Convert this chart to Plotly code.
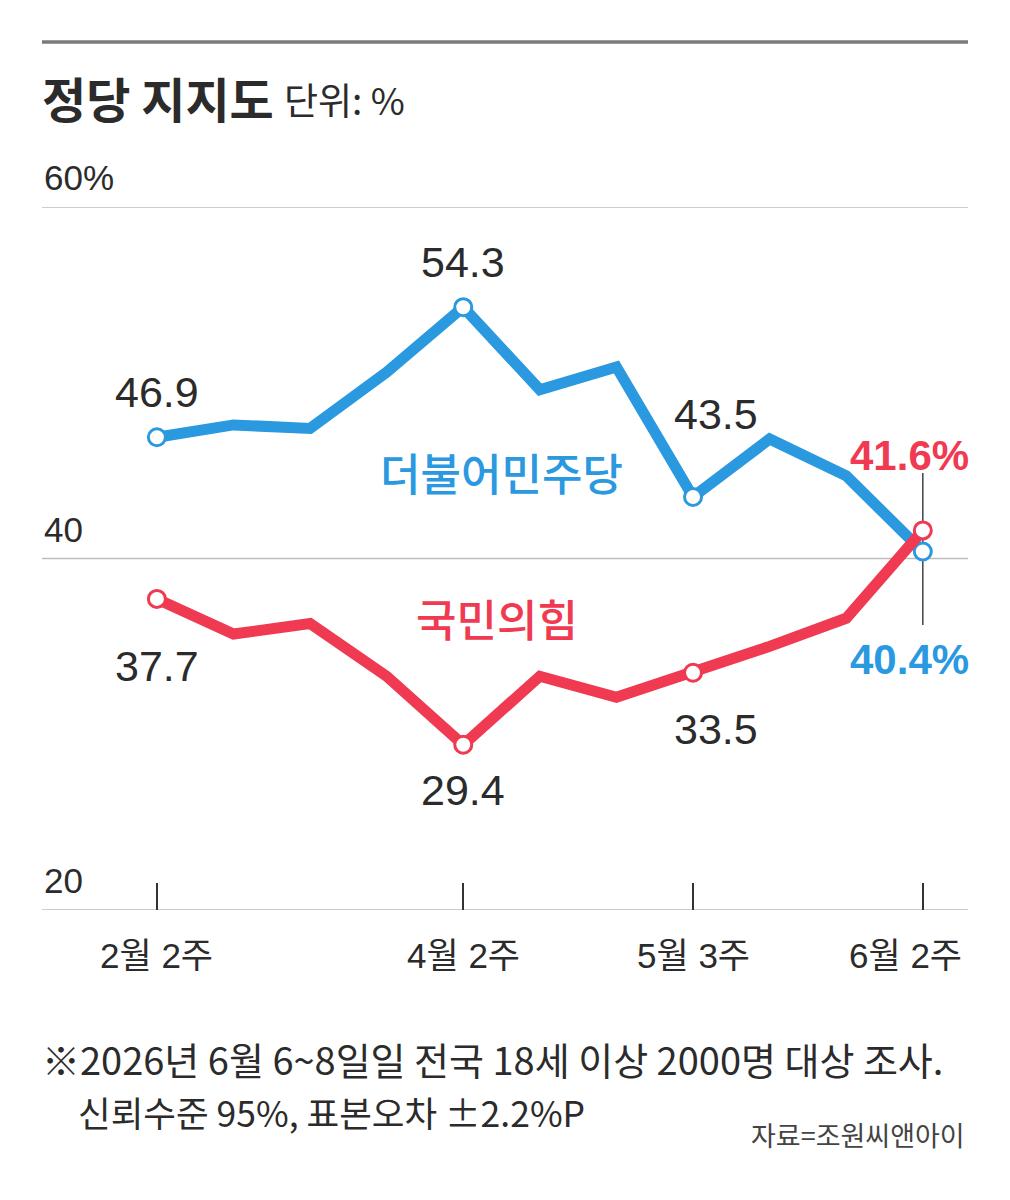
import plotly.graph_objects as go

# 주간 정당 지지도 (%)
weeks = list(range(11))
minjoo = [46.9, 47.6, 47.4, 50.6, 54.3, 49.6, 50.9, 43.5, 46.8, 44.7, 40.4]
ppp = [37.7, 35.7, 36.3, 33.3, 29.4, 33.3, 32.1, 33.5, 35.0, 36.6, 41.6]

tick_idx = [0, 4, 7, 10]
tick_text = ["2월 2주", "4월 2주", "5월 3주", "6월 2주"]
y_ticks = [20, 40, 60]
y_tick_text = ["20", "40", "60%"]

BLUE = "#2a99df"
RED = "#ef3a52"
INK = "#2b2b2b"
NUM_FONT = "Liberation Sans, Arial, sans-serif"
KR_FONT = "Noto Sans CJK KR, sans-serif"

# page body adds an 8px margin, so layout is worked out in screen pixels minus that
OFF = 8
W, H = 1010 - OFF, 1200 - OFF
L, R, T, B = 34, 42, 199, 290


def py(p):
    # screen row -> paper y
    return (H - B - (p - OFF)) / (H - T - B)


def px(p):
    # screen column -> paper x
    return (p - OFF - L) / (W - L - R)


fig = go.Figure()

# gridlines
for v in y_ticks:
    fig.add_shape(type="line", xref="paper", yref="y", x0=0, x1=1, y0=v, y1=v,
                  line=dict(color="#bdbdbd", width=1.5), layer="below")

fig.add_trace(go.Scatter(x=weeks, y=minjoo, mode="lines",
                         line=dict(color=BLUE, width=11), hoverinfo="skip"))
fig.add_trace(go.Scatter(x=tick_idx, y=[minjoo[i] for i in tick_idx], mode="markers",
                         marker=dict(size=17, color="white", line=dict(color=BLUE, width=3)),
                         hoverinfo="skip"))
fig.add_trace(go.Scatter(x=weeks, y=ppp, mode="lines",
                         line=dict(color=RED, width=11), hoverinfo="skip"))
fig.add_trace(go.Scatter(x=tick_idx, y=[ppp[i] for i in tick_idx], mode="markers",
                         marker=dict(size=17, color="white", line=dict(color=RED, width=3)),
                         hoverinfo="skip"))

# value labels (offsets in px)
lab_blue = {0: (0, 45), 4: (0, 45), 7: (23, 83)}
lab_red = {0: (0, -67), 4: (0, -45), 7: (23, -56)}
for i, (dx, dy) in lab_blue.items():
    fig.add_annotation(x=i, y=minjoo[i], text=f"{minjoo[i]}", showarrow=False,
                       xshift=dx, yshift=dy, font=dict(family=NUM_FONT, size=43, color=INK))
for i, (dx, dy) in lab_red.items():
    fig.add_annotation(x=i, y=ppp[i], text=f"{ppp[i]}", showarrow=False,
                       xshift=dx, yshift=dy, font=dict(family=NUM_FONT, size=43, color=INK))

last = weeks[-1]
fig.add_annotation(x=last, y=ppp[-1], text=f"<b>{ppp[-1]}%</b>", showarrow=False,
                   xshift=-13, yshift=75, font=dict(family=NUM_FONT, size=42, color=RED))
fig.add_annotation(x=last, y=minjoo[-1], text=f"<b>{minjoo[-1]}%</b>", showarrow=False,
                   xshift=-13, yshift=-108, font=dict(family=NUM_FONT, size=42, color=BLUE))

# vertical guide at the last week
fig.add_shape(type="line", xref="x", yref="paper", x0=last, x1=last,
              y0=py(625), y1=py(473), line=dict(color="#444", width=1.5), layer="below")

# party names
fig.add_annotation(x=4.5, y=44.9, text="더불어민주당", showarrow=False,
                   font=dict(family=KR_FONT, size=44, color=BLUE, weight=500))
fig.add_annotation(x=4.44, y=36.6, text="국민의힘", showarrow=False,
                   font=dict(family=KR_FONT, size=44, color=RED, weight=500))

# y labels sitting above gridlines
for v, t in zip(y_ticks, y_tick_text):
    fig.add_annotation(xref="paper", x=0, y=v, text=t, showarrow=False,
                       xanchor="left", yanchor="bottom", yshift=8,
                       font=dict(family=NUM_FONT, size=35, color=INK))

# x labels
for i, t in zip(tick_idx, tick_text):
    fig.add_annotation(x=i, yref="paper", y=py(955), text=t, showarrow=False,
                       yanchor="middle", xshift=-17 if i == last else 0,
                       font=dict(family=NUM_FONT + ", " + KR_FONT, size=35, color=INK))

# header
fig.add_shape(type="line", xref="paper", yref="paper", x0=0, x1=1, y0=py(42), y1=py(42),
              line=dict(color="#7a7a7a", width=3.5))
fig.add_annotation(xref="paper", yref="paper", x=px(40), y=py(97), text="<b>정당 지지도</b>",
                   showarrow=False, xanchor="left", yanchor="middle",
                   font=dict(family=KR_FONT, size=48, color=INK))
fig.add_annotation(xref="paper", yref="paper", x=px(282), y=py(99), text="단위: %",
                   showarrow=False, xanchor="left", yanchor="middle",
                   font=dict(family=KR_FONT, size=37, color=INK))

# footnotes
fig.add_annotation(xref="paper", yref="paper", x=px(40), y=py(1058),
                   text="※2026년 6월 6~8일일 전국 18세 이상 2000명 대상 조사.",
                   showarrow=False, xanchor="left", yanchor="middle",
                   font=dict(family=KR_FONT, size=38, color=INK))
fig.add_annotation(xref="paper", yref="paper", x=px(76), y=py(1111),
                   text="신뢰수준 95%, 표본오차 ±2.2%P",
                   showarrow=False, xanchor="left", yanchor="middle",
                   font=dict(family=KR_FONT, size=35.5, color=INK))
fig.add_annotation(xref="paper", yref="paper", x=px(967), y=py(1134),
                   text="자료=조원씨앤아이",
                   showarrow=False, xanchor="right", yanchor="middle",
                   font=dict(family=KR_FONT, size=27, color="#444"))

fig.update_layout(
    width=W, height=H,
    margin=dict(l=L, r=R, t=T, b=B),
    paper_bgcolor="white", plot_bgcolor="white",
    showlegend=False,
)
fig.update_xaxes(range=[-1.5, 10.59], tickvals=tick_idx, showticklabels=False,
                 ticks="inside", ticklen=27, tickcolor="#333", tickwidth=1.5,
                 showgrid=False, zeroline=False, showline=False, fixedrange=True)
fig.update_yaxes(range=[20, 60], tickvals=y_ticks, showticklabels=False,
                 showgrid=False, zeroline=False, showline=False, fixedrange=True)

fig.write_html("out.html")
